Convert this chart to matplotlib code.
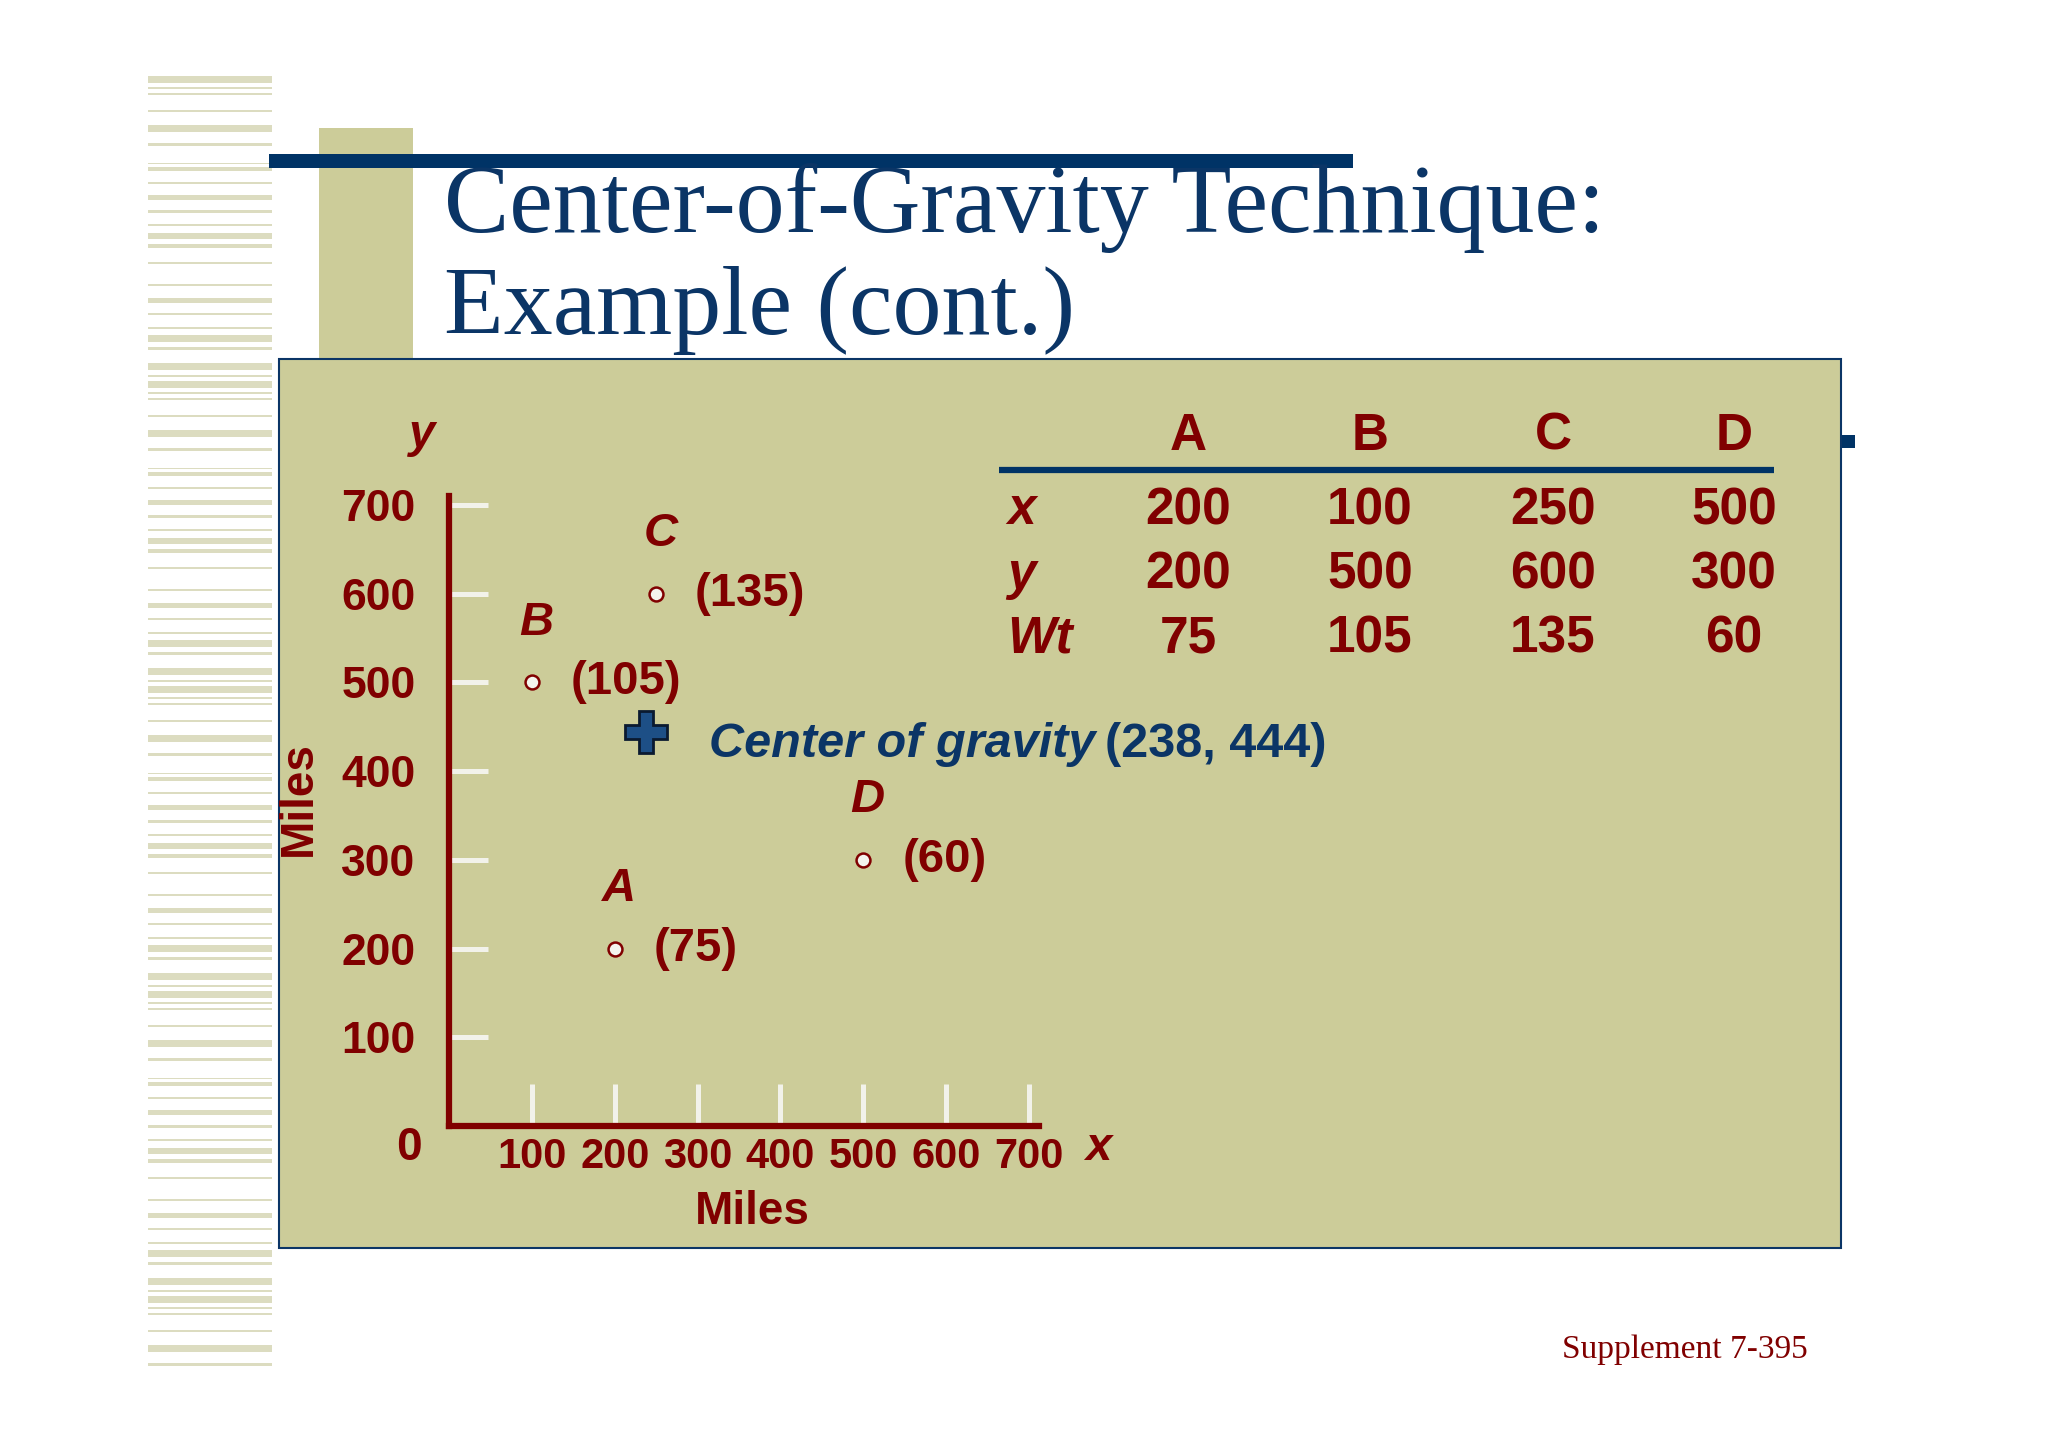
import matplotlib
matplotlib.use("Agg")
import matplotlib.pyplot as plt
from matplotlib import font_manager
from matplotlib.patches import Rectangle

# --- data ---------------------------------------------------------------
sites = ["A", "B", "C", "D"]
x_miles = [200, 100, 250, 500]
y_miles = [200, 500, 600, 300]
weights = [75, 105, 135, 60]
tick_values = [100, 200, 300, 400, 500, 600, 700]

cx = sum(x * w for x, w in zip(x_miles, weights)) / sum(weights)
cy = sum(y * w for y, w in zip(y_miles, weights)) / sum(weights)

# --- style ---------------------------------------------------------------
W, H = 2048, 1447
OLIVE = "#CCCC99"
NAVY = "#0b3566"
MAROON = "#800000"
STRIPE = "#dcdcc0"

names = {f.name for f in font_manager.fontManager.ttflist}
NARROW = "Liberation Sans Narrow" if "Liberation Sans Narrow" in names else "Liberation Sans"
SERIF = "Liberation Serif"

fig = plt.figure(figsize=(W / 100, H / 100), dpi=100)
fig.patch.set_facecolor("white")

# background layer in pixel coordinates
bg = fig.add_axes([0, 0, 1, 1])
bg.set_xlim(0, W)
bg.set_ylim(H, 0)
bg.axis("off")

# left decorative stripes (one pattern repeated down the slide)
stripe_pattern = [(0, 7), (11, 2), (17, 2), (34, 2), (49, 7), (67, 3), (87, 1),
                  (91, 4), (106, 2), (119, 5), (134, 3), (148, 2), (157, 6),
                  (168, 4), (186, 2), (208, 2), (222, 5), (237, 2), (251, 2),
                  (259, 7), (271, 3), (287, 7), (299, 2)]
start = 76
while start < 1369:
    for off, h in stripe_pattern:
        if start + off < 1369:
            bg.add_patch(Rectangle((148, start + off), 124, h, color=STRIPE, lw=0))
    start += 305

bg.add_patch(Rectangle((319, 128), 94, 231, color=OLIVE, lw=0))
bg.add_patch(Rectangle((269, 154), 1084, 14, color="#003366", lw=0))
bg.add_patch(Rectangle((1841, 435), 14, 13, color="#003366", lw=0))
bg.add_patch(Rectangle((279, 359), 1562, 889, facecolor=OLIVE, edgecolor=NAVY, lw=1.5))

# title
bg.text(444, 232, "Center-of-Gravity Technique:", family=SERIF, fontsize=70.5,
        color=NAVY, va="baseline")
bg.text(444, 334, "Example (cont.)", family=SERIF, fontsize=70.5,
        color=NAVY, va="baseline")

bg.text(1562, 1358, "Supplement 7-395", family=SERIF, fontsize=24,
        color=MAROON, va="baseline")

# table
col_x = [1188, 1370, 1553, 1734]
for name, px in zip(sites, col_x):
    bg.text(px, 436, name, family=NARROW, weight="bold", fontsize=37,
            color=MAROON, ha="center", va="center")
bg.plot([999, 1774], [470, 470], color="#003366", lw=4.5, solid_capstyle="butt")
rows = [("x", x_miles), ("y", y_miles), ("Wt", weights)]
for (label, vals), py in zip(rows, [511, 575, 639]):
    bg.text(1007, py, label, family=NARROW, weight="bold", style="italic",
            fontsize=37, color=MAROON, ha="left", va="center")
    for v, px in zip(vals, col_x):
        bg.text(px, py, str(v), family=NARROW, weight="bold", fontsize=37,
                color=MAROON, ha="center", va="center")

# axis decorations
bg.text(422, 435, "y", family=NARROW, weight="bold", style="italic",
        fontsize=34, color=MAROON, ha="center", va="center")
bg.text(1098, 1148, "x", family=NARROW, weight="bold", style="italic",
        fontsize=34, color=MAROON, ha="center", va="center")
bg.text(409, 1148, "0", family=NARROW, weight="bold",
        fontsize=33, color=MAROON, ha="center", va="center")
bg.text(752, 1212, "Miles", family=NARROW, weight="bold",
        fontsize=33, color=MAROON, ha="center", va="center")
bg.text(299, 799, "Miles", family=NARROW, weight="bold", rotation=90,
        fontsize=33, color=MAROON, ha="center", va="center")

# --- chart axes ----------------------------------------------------------
ax = fig.add_axes([449 / W, 1 - 1126 / H, 590 / W, 630 / H])
ax.set_xlim(0, 712)
ax.set_ylim(0, 710)
ax.patch.set_alpha(0)
for side in ["top", "right"]:
    ax.spines[side].set_visible(False)
for side in ["left", "bottom"]:
    ax.spines[side].set_color(MAROON)
    ax.spines[side].set_linewidth(4.5)
    ax.spines[side].set_capstyle("projecting")

ax.set_xticks(tick_values)
ax.set_yticks(tick_values)
ax.tick_params(axis="y", direction="in", length=28, width=3.6,
               color="#f2f2ea", pad=24, labelcolor=MAROON)
ax.tick_params(axis="x", direction="in", length=30, width=3.6,
               color="#f2f2ea", pad=8, labelcolor=MAROON)
for lab in ax.get_yticklabels():
    lab.set_family(NARROW)
    lab.set_weight("bold")
    lab.set_fontsize(32)
for lab in ax.get_xticklabels():
    lab.set_family(NARROW)
    lab.set_weight("bold")
    lab.set_fontsize(30)

ax.plot(x_miles, y_miles, "o", ms=10, mfc="#f4f4ee", mec=MAROON, mew=1.8,
        clip_on=False)
for name, x, y, w in zip(sites, x_miles, y_miles, weights):
    ax.annotate(name, (x, y), xytext=(3, 43), textcoords="offset points",
                ha="center", va="center", family=NARROW, weight="bold",
                style="italic", fontsize=34, color=MAROON)
    ax.annotate(f"({w})", (x, y), xytext=(28, 0), textcoords="offset points",
                ha="left", va="center", family=NARROW, weight="bold",
                fontsize=34, color=MAROON)

ax.plot([cx], [cy], "P", ms=30, mfc="#1d4f86", mec="#0a1a30", mew=2,
        clip_on=False)

t1 = bg.text(709, 757, "Center of gravity", family=NARROW, weight="bold",
             style="italic", fontsize=35, color=NAVY, va="baseline")
fig.canvas.draw()
bb = t1.get_window_extent()
bg.text(bb.x1 + 10, 757, f"({cx:.0f}, {cy:.0f})", family=NARROW, weight="bold",
        fontsize=35, color=NAVY, va="baseline")

fig.savefig("out.png", dpi=100)
